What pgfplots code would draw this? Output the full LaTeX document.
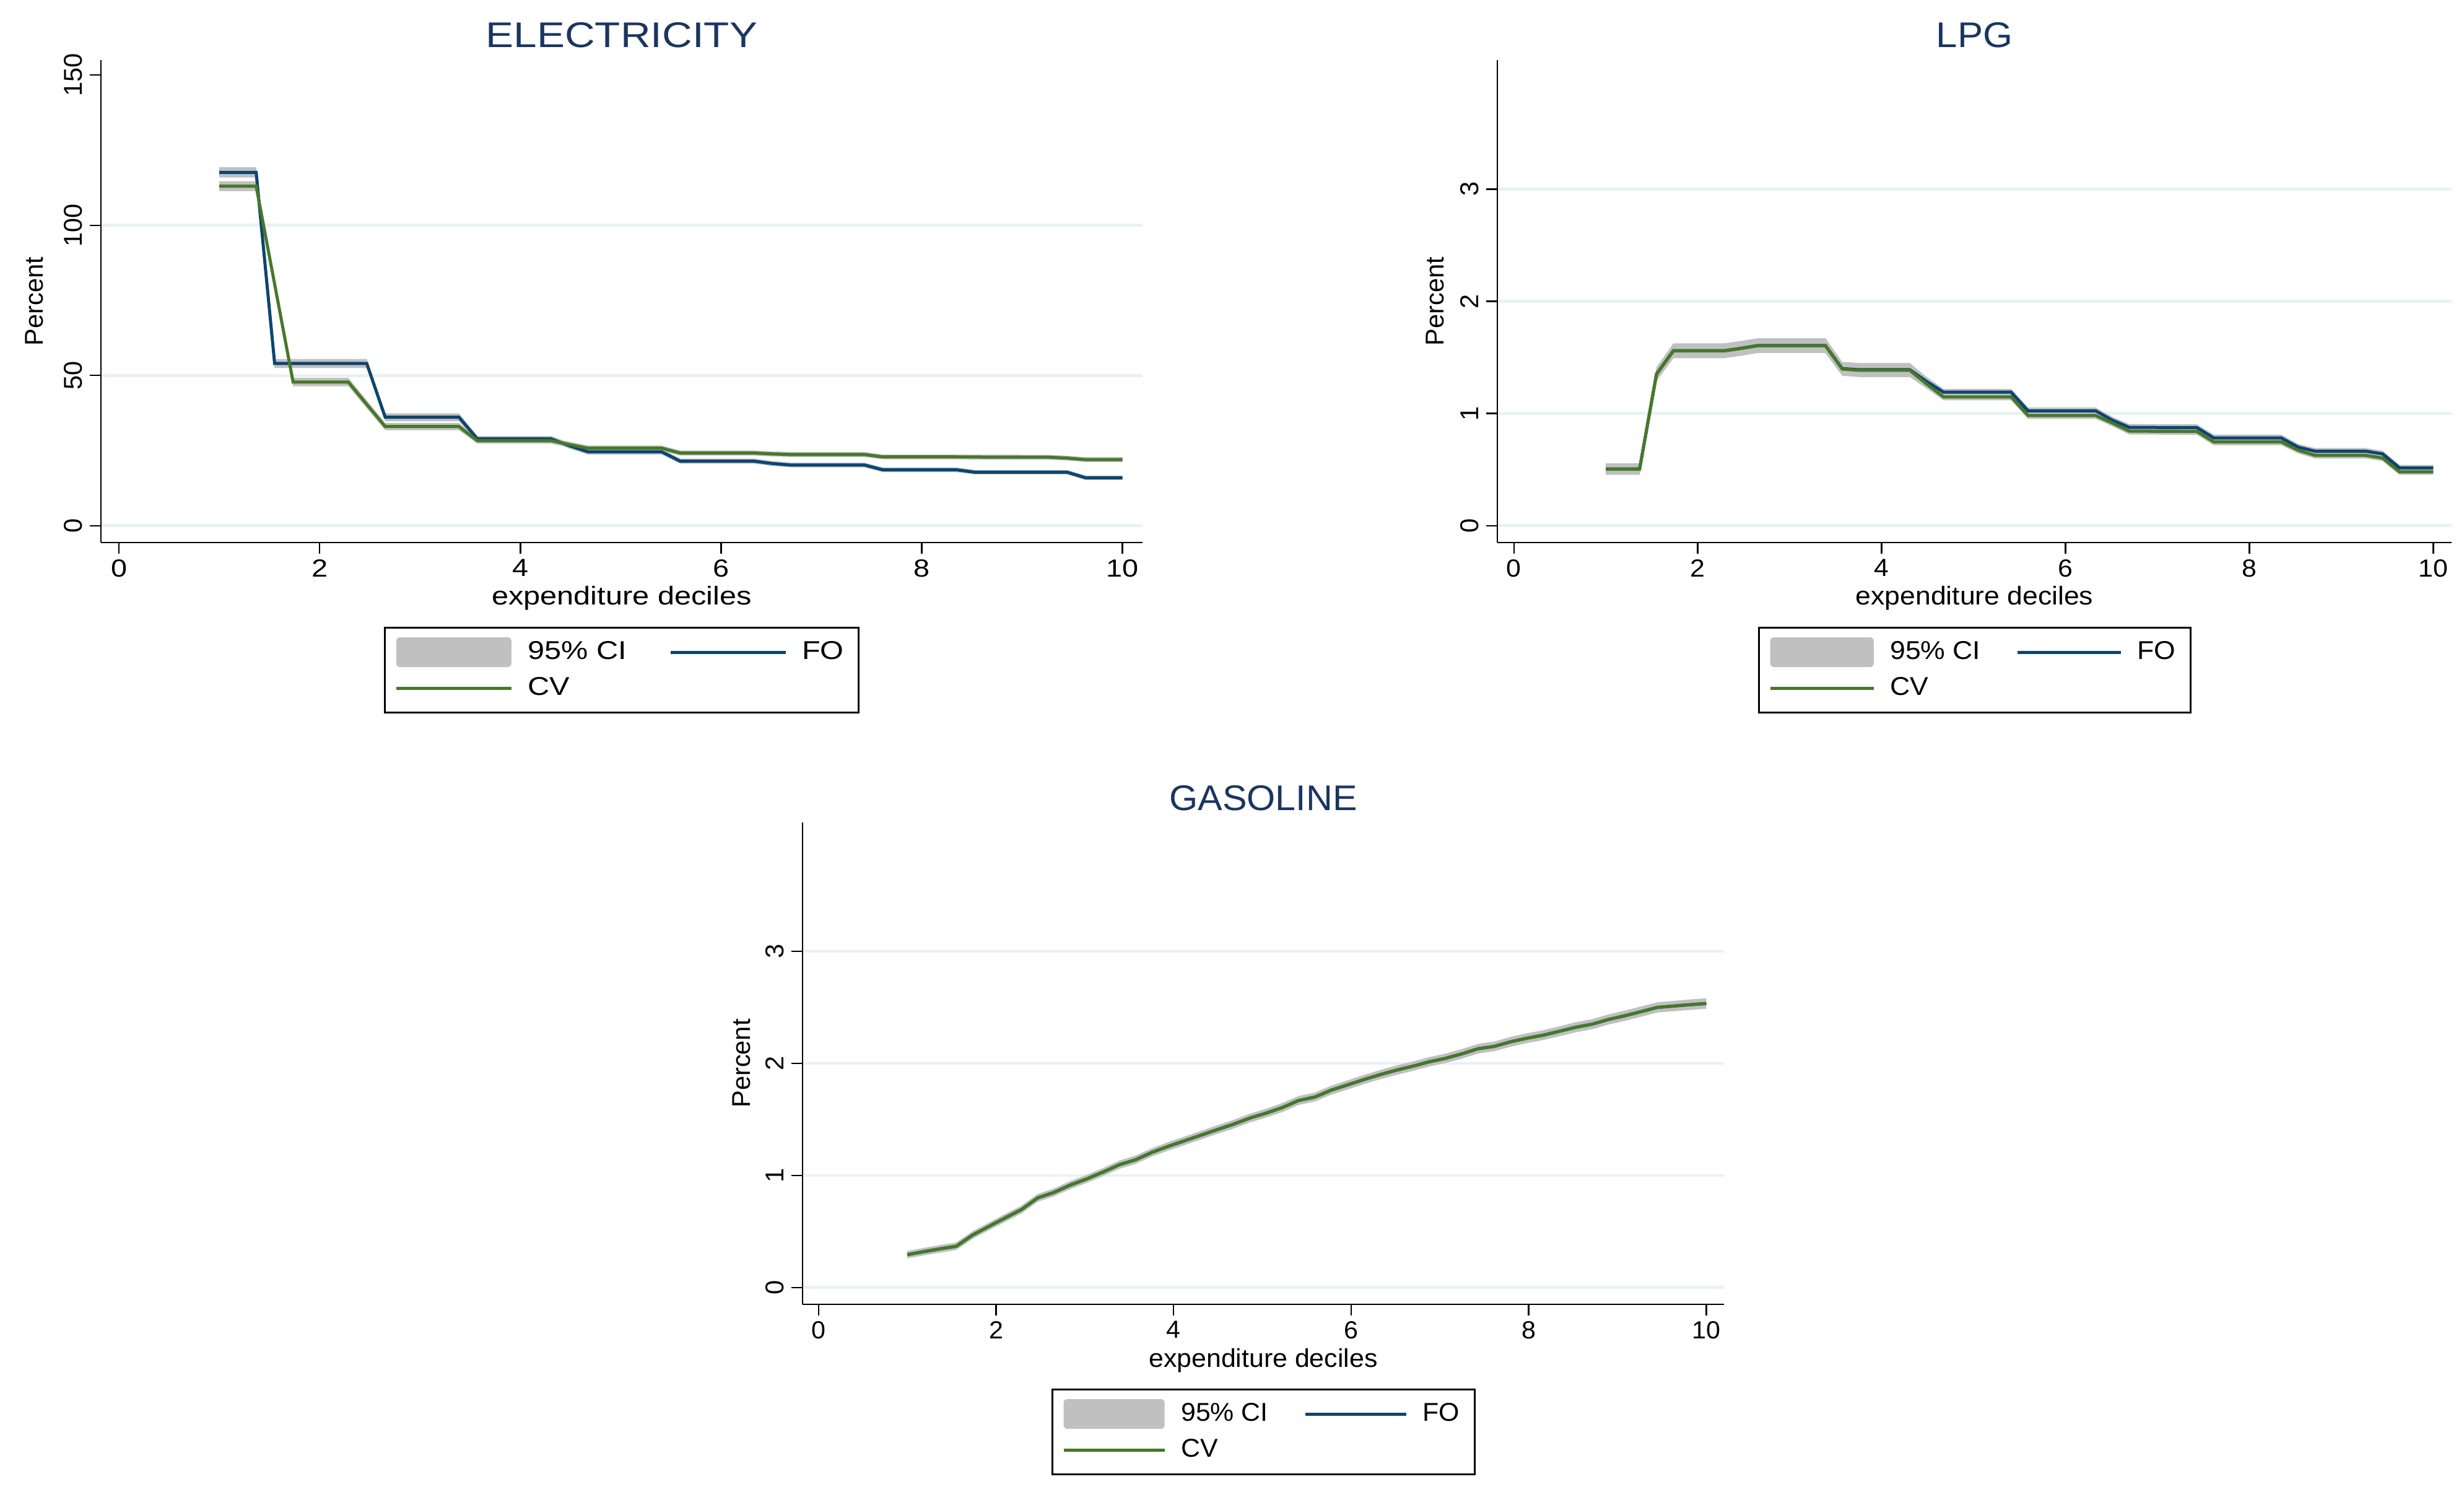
\documentclass[border=0pt]{standalone}
\usepackage{fontspec}
\setmainfont{Liberation Sans}
\newfontfamily\fElec{Liberation Sans}[FakeStretch=1.17]
\newfontfamily\fLPG{Liberation Sans}[FakeStretch=1.07]
\newfontfamily\fGas{Liberation Sans}[FakeStretch=1.03]
\usepackage{pgfplots}
\usepackage{pgfplotstable}
\pgfplotsset{compat=1.18}
\usepgfplotslibrary{fillbetween}

\definecolor{fo}{HTML}{0C4571}
\definecolor{cv}{HTML}{467828}
\definecolor{ci}{HTML}{C0C0C0}
\definecolor{gridc}{HTML}{E8F2F2}
\definecolor{titlec}{HTML}{1A3560}

\newcommand\sz{\fontsize{10.4}{12}\selectfont}
\newcommand\tz{\fontsize{14.4}{16}\selectfont}
\newcommand\kz{\fontsize{10}{12}\selectfont}

% x fo folo fohi cv cvlo cvhi
\pgfplotstableread{
x fo folo fohi cv cvlo cvhi
1.000 117.6 115.9 119.3 113.0 111.35 114.65
1.367 117.6 115.9 119.3 113.0 111.35 114.65
1.551 54.0 52.5 55.5 80.4 78.9 81.9
1.735 54.0 52.5 55.5 47.8 46.4 49.2
2.286 54.0 52.5 55.5 47.8 46.4 49.2
2.469 54.0 52.5 55.5 40.4 39.1 41.7
2.653 36.1 34.8 37.4 33.0 31.8 34.2
3.388 36.1 34.8 37.4 33.0 31.8 34.2
3.571 28.9 27.9 29.9 28.3 27.3 29.3
4.306 28.9 27.9 29.9 28.3 27.3 29.3
4.490 26.6 25.65 27.55 27.0 26.05 27.95
4.673 24.6 23.7 25.5 25.8 24.9 26.7
5.408 24.6 23.7 25.5 25.8 24.9 26.7
5.592 21.5 20.65 22.35 24.2 23.35 25.05
6.327 21.5 20.65 22.35 24.2 23.35 25.05
6.510 20.7 19.9 21.5 23.9 23.05 24.75
6.694 20.2 19.4 21.0 23.7 22.85 24.55
7.429 20.2 19.4 21.0 23.7 22.85 24.55
7.612 18.6 17.8 19.4 22.9 22.1 23.7
8.347 18.6 17.8 19.4 22.9 22.1 23.7
8.531 17.8 17.05 18.55 22.85 22.05 23.65
9.265 17.8 17.05 18.55 22.8 22.0 23.6
9.449 17.8 17.05 18.55 22.5 21.7 23.3
9.633 15.95 15.2 16.7 22.0 21.2 22.8
10.000 15.95 15.2 16.7 22.0 21.2 22.8
}\elec

\pgfplotstableread{
x fo folo fohi cv cvlo cvhi
1.000 0.506 0.456 0.556 0.504 0.454 0.554
1.367 0.506 0.456 0.556 0.504 0.454 0.554
1.551 1.352 1.292 1.412 1.350 1.290 1.410
1.735 1.560 1.495 1.625 1.558 1.493 1.623
2.286 1.560 1.495 1.625 1.558 1.493 1.623
2.469 1.581 1.516 1.646 1.579 1.514 1.644
2.653 1.606 1.541 1.671 1.604 1.539 1.669
3.388 1.606 1.541 1.671 1.604 1.539 1.669
3.571 1.400 1.340 1.460 1.396 1.336 1.456
3.755 1.390 1.330 1.450 1.385 1.325 1.445
4.306 1.390 1.330 1.450 1.385 1.325 1.445
4.490 1.285 1.245 1.325 1.262 1.222 1.302
4.673 1.190 1.160 1.220 1.148 1.118 1.178
5.408 1.190 1.160 1.220 1.148 1.118 1.178
5.592 1.024 0.994 1.054 0.982 0.952 1.012
6.327 1.024 0.994 1.054 0.982 0.952 1.012
6.510 0.940 0.910 0.970 0.915 0.885 0.945
6.694 0.876 0.846 0.906 0.843 0.813 0.873
7.429 0.874 0.844 0.904 0.840 0.810 0.870
7.612 0.782 0.752 0.812 0.747 0.717 0.777
8.347 0.782 0.752 0.812 0.747 0.717 0.777
8.531 0.700 0.672 0.728 0.672 0.644 0.700
8.714 0.664 0.636 0.692 0.627 0.599 0.655
9.265 0.664 0.636 0.692 0.627 0.599 0.655
9.449 0.640 0.612 0.668 0.603 0.575 0.631
9.633 0.515 0.488 0.542 0.480 0.453 0.507
10.000 0.515 0.488 0.542 0.480 0.453 0.507
}\lpg

% FO and CV coincide for gasoline
\pgfplotstableread{
x y lo hi
1.000 0.293 0.260 0.326
1.184 0.320 0.287 0.353
1.367 0.345 0.311 0.379
1.551 0.368 0.334 0.402
1.735 0.468 0.434 0.502
1.918 0.545 0.511 0.579
2.102 0.621 0.586 0.656
2.286 0.696 0.661 0.731
2.469 0.800 0.765 0.835
2.653 0.849 0.814 0.884
2.837 0.915 0.879 0.951
3.020 0.969 0.933 1.005
3.204 1.030 0.994 1.066
3.388 1.096 1.059 1.133
3.571 1.140 1.103 1.177
3.755 1.206 1.169 1.243
3.939 1.260 1.222 1.298
4.122 1.309 1.271 1.347
4.306 1.359 1.321 1.397
4.490 1.409 1.371 1.447
4.673 1.457 1.418 1.496
4.857 1.512 1.473 1.551
5.041 1.556 1.517 1.595
5.224 1.606 1.566 1.646
5.408 1.669 1.629 1.709
5.592 1.700 1.660 1.740
5.776 1.762 1.722 1.802
5.959 1.808 1.767 1.849
6.143 1.856 1.815 1.897
6.327 1.900 1.859 1.941
6.510 1.940 1.898 1.982
6.694 1.975 1.933 2.017
6.878 2.014 1.972 2.056
7.061 2.045 2.003 2.087
7.245 2.085 2.042 2.128
7.429 2.131 2.088 2.174
7.612 2.152 2.109 2.195
7.796 2.193 2.149 2.237
7.980 2.225 2.181 2.269
8.163 2.252 2.208 2.296
8.347 2.287 2.243 2.331
8.531 2.323 2.278 2.368
8.714 2.350 2.305 2.395
8.898 2.392 2.347 2.437
9.082 2.425 2.379 2.471
9.265 2.462 2.416 2.508
9.449 2.500 2.454 2.546
9.633 2.512 2.466 2.558
9.816 2.524 2.477 2.571
10.000 2.535 2.488 2.582
}\gas

\pgfplotsset{
  stata/.style={
    scale only axis,
    axis lines*=left,
    axis line style={line width=0.7pt, -},
    tick style={black, line width=0.6pt},
    tick align=outside,
    major tick length=4.6pt,
    xmin=-0.18, xmax=10.2,
    xtick={0,2,4,6,8,10},
    ymajorgrids,
    major grid style={line width=1.2pt, gridc},
    /pgf/number format/assume math mode=true,
    xticklabel style={anchor=north, inner sep=0pt},
    xticklabel shift=2pt,
    yticklabel style={rotate=90, anchor=south, inner sep=0pt, font=\rmfamily\fontsize{10.4}{12}\selectfont},
    yticklabel shift=2.8pt,
    xlabel={expenditure deciles},
    ylabel={Percent},
    xlabel style={at={(axis description cs:0.5,0)}, anchor=base, yshift=-25.25pt, inner sep=0pt},
    ylabel style={font=\rmfamily\sz, anchor=center},
    every axis title/.style={at={(axis description cs:0.5,1)}, anchor=base, yshift=5pt, inner sep=0pt, text=titlec},
    legend columns=2,
    legend cell align=left,
    legend style={at={(axis description cs:0.5,0)}, anchor=north, yshift=-34pt,
      draw=black, line width=0.75pt, inner xsep=4pt, inner ysep=3.5pt, row sep=1.75pt,
      /tikz/every odd column/.append style={column sep=4pt}},
  },
  ciband/.style={fill=ci, draw=none},
  cilegend/.style={fill=ci, draw=none,
    legend image code/.code={\fill[ci, rounded corners=1.5pt] (0pt,-6pt) rectangle (\legw,6pt);}},
  foline/.style={fo, line width=1.25pt,
    legend image code/.code={\draw[##1] (0pt,0pt) -- (\legw,0pt);}},
  cvline/.style={cv, line width=1.25pt,
    legend image code/.code={\draw[##1] (0pt,0pt) -- (\legw,0pt);}},
}

\begin{document}
\begin{tikzpicture}
% page frame: the whole figure is 3979 x 2408 px at 0.25pt per px
\path (0,0) rectangle (994.75pt,602pt);

% ---- electricity
\gdef\legw{46.5pt}
\begin{axis}[stata,
  at={(40.75pt,383pt)}, anchor=south west,
  width=420.5pt, height=194.75pt,
  ymin=-5.6, ymax=155,
  ytick={0,50,100}, extra y ticks={150}, extra y tick style={grid=none},
  title={ELECTRICITY},
  title style={font=\fElec\tz},
  xlabel style={font=\fElec\sz},
  xticklabel style={font=\fElec\kz},
  ylabel style={at={(axis description cs:-0.064,0.5)}},
  legend style={font=\fElec\sz, /tikz/every even column/.append style={column sep=15pt}},
]
\addplot[name path=fh, draw=none, forget plot] table[x=x, y=fohi] {\elec};
\addplot[name path=fl, draw=none, forget plot] table[x=x, y=folo] {\elec};
\addplot[name path=ch, draw=none, forget plot] table[x=x, y=cvhi] {\elec};
\addplot[name path=cl, draw=none, forget plot] table[x=x, y=cvlo] {\elec};
\addplot[cilegend] fill between[of=fh and fl];
\addplot[ciband, forget plot] fill between[of=ch and cl];
\addplot[foline] table[x=x, y=fo] {\elec};
\addplot[cvline] table[x=x, y=cv] {\elec};
\legend{95\% CI, FO, CV}
\end{axis}

% ---- LPG
\gdef\legw{41.8pt}
\begin{axis}[stata,
  at={(604.5pt,383pt)}, anchor=south west,
  width=385.25pt, height=194.75pt,
  ymin=-0.15, ymax=4.15,
  ytick={0,1,2,3},
  title={LPG},
  title style={font=\fLPG\tz},
  xlabel style={font=\fLPG\sz},
  xticklabel style={font=\fLPG\kz},
  ylabel style={at={(axis description cs:-0.065,0.5)}},
  legend style={font=\fLPG\sz, /tikz/every even column/.append style={column sep=12.2pt}},
]
\addplot[name path=fh, draw=none, forget plot] table[x=x, y=fohi] {\lpg};
\addplot[name path=fl, draw=none, forget plot] table[x=x, y=folo] {\lpg};
\addplot[name path=ch, draw=none, forget plot] table[x=x, y=cvhi] {\lpg};
\addplot[name path=cl, draw=none, forget plot] table[x=x, y=cvlo] {\lpg};
\addplot[cilegend] fill between[of=fh and fl];
\addplot[ciband, forget plot] fill between[of=ch and cl];
\addplot[foline] table[x=x, y=fo] {\lpg};
\addplot[cvline] table[x=x, y=cv] {\lpg};
\legend{95\% CI, FO, CV}
\end{axis}

% ---- gasoline
\gdef\legw{40.8pt}
\begin{axis}[stata,
  at={(324pt,75.5pt)}, anchor=south west,
  width=372pt, height=194.5pt,
  ymin=-0.15, ymax=4.15,
  ytick={0,1,2,3},
  title={GASOLINE},
  title style={font=\fGas\tz},
  xlabel style={font=\fGas\sz},
  xticklabel style={font=\fGas\kz},
  ylabel style={at={(axis description cs:-0.066,0.5)}},
  legend style={font=\fGas\sz, /tikz/every even column/.append style={column sep=12.4pt}},
]
\addplot[name path=gh, draw=none, forget plot] table[x=x, y=hi] {\gas};
\addplot[name path=gl, draw=none, forget plot] table[x=x, y=lo] {\gas};
\addplot[cilegend] fill between[of=gh and gl];
\addplot[foline] table[x=x, y=y] {\gas};
\addplot[cvline] table[x=x, y=y] {\gas};
\legend{95\% CI, FO, CV}
\end{axis}
\end{tikzpicture}
\end{document}
